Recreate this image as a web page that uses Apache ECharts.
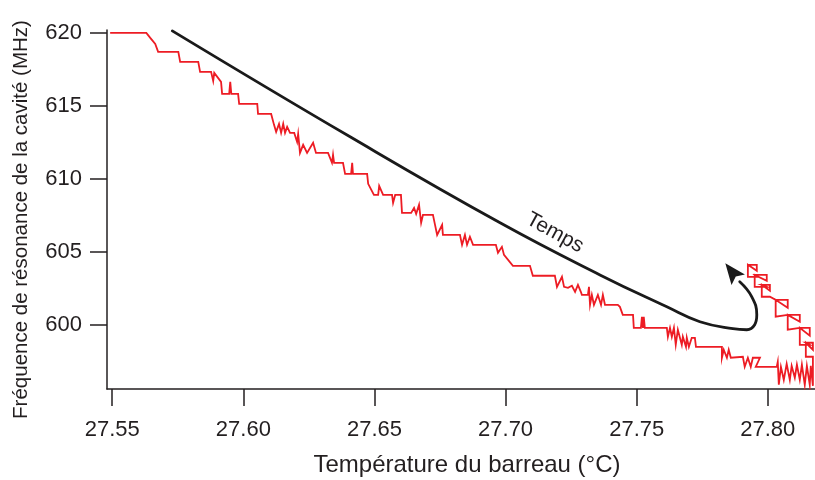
<!DOCTYPE html>
<html>
<head>
<meta charset="utf-8">
<script src="https://cdn.jsdelivr.net/npm/echarts@6/dist/echarts.min.js"></script>
<style>
  html, body { margin: 0; padding: 0; background: #ffffff; }
  #chart { width: 815px; height: 480px; }
</style>
</head>
<body>
<div id="chart"></div>
<script>
// Bar temperature (°C) and cavity resonance frequency (MHz), in acquisition order
const temperature = [
  27.5492, 27.5630, 27.5645, 27.5664, 27.5675, 27.5752, 27.5759, 27.5828, 27.5835, 27.5877,
  27.5885, 27.5889, 27.5915, 27.5919, 27.5946, 27.5950, 27.5954, 27.5980, 27.5984, 27.6053,
  27.6056, 27.6106, 27.6117, 27.6125, 27.6136, 27.6144, 27.6152, 27.6159, 27.6167, 27.6178,
  27.6194, 27.6205, 27.6209, 27.6216, 27.6228, 27.6243, 27.6266, 27.6277, 27.6323, 27.6338,
  27.6342, 27.6346, 27.6380, 27.6388, 27.6411, 27.6415, 27.6418, 27.6472, 27.6476, 27.6498,
  27.6514, 27.6518, 27.6533, 27.6567, 27.6571, 27.6579, 27.6601, 27.6605, 27.6640, 27.6651,
  27.6659, 27.6670, 27.6678, 27.6685, 27.6723, 27.6731, 27.6739, 27.6758, 27.6761, 27.6826,
  27.6834, 27.6845, 27.6853, 27.6864, 27.6876, 27.6963, 27.6971, 27.6986, 27.6994, 27.7028,
  27.7093, 27.7104, 27.7188, 27.7196, 27.7215, 27.7223, 27.7238, 27.7253, 27.7265, 27.7276,
  27.7287, 27.7291, 27.7314, 27.7318, 27.7322, 27.7329, 27.7337, 27.7352, 27.7364, 27.7371,
  27.7379, 27.7428, 27.7436, 27.7447, 27.7486, 27.7489, 27.7516, 27.7520, 27.7524, 27.7527,
  27.7531, 27.7615, 27.7619, 27.7627, 27.7634, 27.7642, 27.7649, 27.7657, 27.7672, 27.7676,
  27.7688, 27.7691, 27.7699, 27.7710, 27.7722, 27.7726, 27.7817, 27.7825, 27.7825, 27.7832,
  27.7844, 27.7851, 27.7859, 27.7905, 27.7912, 27.7912, 27.7924, 27.7935, 27.7943, 27.7970,
  27.7954, 27.7977, 27.8034, 27.8038, 27.8042, 27.8050, 27.8061, 27.8072, 27.8084, 27.8091,
  27.8103, 27.8111, 27.8122, 27.8130, 27.8141, 27.8149, 27.8160, 27.8164, 27.8172,
  // heating reversed: the frequency climbs back
  27.8172, 27.8145, 27.8145, 27.8172, 27.8172, 27.8145,
  27.8160, 27.8122, 27.8122, 27.8160, 27.8160, 27.8122,
  27.8122, 27.8076, 27.8076, 27.8122, 27.8122, 27.8076,
  27.8076, 27.8030, 27.8030, 27.8076, 27.8076, 27.8030,
  27.8008, 27.7977, 27.7977, 27.8008, 27.8008, 27.7977,
  27.7996, 27.7950, 27.7950, 27.7996, 27.7996, 27.7950,
  27.7958, 27.7924, 27.7924, 27.7958, 27.7958, 27.7924
];
const frequency = [
  620.00, 620.00, 619.66, 619.25, 618.70, 618.70, 618.01, 618.01, 617.33, 617.33,
  616.71, 617.26, 616.64, 615.82, 615.82, 616.64, 615.82, 615.82, 615.14, 615.14,
  614.45, 614.45, 613.70, 613.22, 613.77, 613.15, 613.77, 613.15, 613.56, 613.15,
  613.15, 612.53, 613.08, 611.78, 612.33, 611.78, 612.47, 611.78, 611.78, 611.10,
  611.64, 611.10, 611.10, 610.34, 610.34, 611.10, 610.34, 610.34, 609.66, 608.90,
  608.90, 609.52, 608.90, 608.90, 608.36, 608.90, 608.90, 607.67, 607.67, 608.01,
  607.60, 608.22, 606.99, 607.53, 607.53, 606.85, 606.16, 606.85, 606.16, 606.16,
  605.48, 606.16, 605.48, 606.03, 605.48, 605.48, 604.93, 605.34, 604.79, 604.04,
  604.04, 603.36, 603.36, 602.60, 603.29, 602.60, 602.53, 602.67, 602.26, 602.74,
  602.26, 602.05, 602.05, 602.60, 601.37, 602.05, 601.37, 602.05, 601.37, 602.05,
  601.37, 601.37, 601.23, 600.68, 600.68, 599.79, 599.79, 600.55, 599.79, 600.55,
  599.79, 599.79, 599.18, 599.79, 599.18, 599.79, 598.63, 599.66, 598.63, 599.18,
  598.49, 599.11, 598.49, 599.11, 599.11, 598.49, 598.49, 598.49, 597.74, 598.29,
  597.74, 598.29, 597.74, 597.81, 597.81, 597.12, 597.74, 597.12, 597.74, 597.74,
  597.12, 597.12, 597.12, 597.47, 595.89, 597.12, 596.23, 597.33, 596.23, 597.19,
  596.37, 597.26, 596.23, 597.26, 595.89, 597.19, 595.89, 597.19, 595.82,
  // heating reversed: the frequency climbs back
  597.81, 597.81, 598.77, 598.29, 598.77, 598.77,
  598.63, 598.63, 599.79, 599.25, 599.79, 599.79,
  599.66, 599.66, 600.68, 600.21, 600.68, 600.68,
  600.55, 600.55, 601.71, 601.16, 601.71, 601.71,
  601.92, 601.92, 602.74, 602.33, 602.74, 602.74,
  602.60, 602.60, 603.42, 603.01, 603.42, 603.42,
  603.29, 603.29, 604.11, 603.70, 604.11, 604.11
];

// Guide curve showing the direction of time ("Temps"), ending in an arrow tip
const timeCurveTemp = [27.5729, 27.6407, 27.6979, 27.7360, 27.7615, 27.7741, 27.7867, 27.7920, 27.7950, 27.7958, 27.7939, 27.7893];
const timeCurveFreq = [620.14, 612.88, 606.99, 603.42, 601.23, 600.21, 599.73, 599.66, 600.00, 600.68, 601.92, 602.95];
const timeArrowTip = [27.7838, 604.22];
const timeLabelAt = [27.7188, 606.30];
const timeLabel = 'Temps';

// Axis ticks
const xTicks = [27.55, 27.60, 27.65, 27.70, 27.75, 27.80];
const yTicks = [600, 605, 610, 615, 620];
const xTitle = 'Température du barreau (°C)';
const yTitle = 'Fréquence de résonance de la cavité (MHz)';

const INK = '#231f20';
const FONT = '"Liberation Sans", Arial, Helvetica, sans-serif';

const measured = temperature.map((t, i) => [t, frequency[i]]);
const guide = timeCurveTemp.map((t, i) => [t, timeCurveFreq[i]]);

const chart = echarts.init(document.getElementById('chart'), null, { renderer: 'canvas' });

const axisCommon = {
  axisLine: { show: true, onZero: false, lineStyle: { color: INK, width: 1.5 } },
  axisTick: { show: true, inside: false, length: 17, lineStyle: { color: INK, width: 1.5 } },
  splitLine: { show: false },
  axisLabel: { color: INK, fontFamily: FONT, fontSize: 22 },
  nameLocation: 'middle'
};

chart.setOption({
  animation: false,
  backgroundColor: '#ffffff',
  grid: { left: 107, right: 0, top: 30, bottom: 91, containLabel: false, outerBoundsMode: 'none' },
  xAxis: Object.assign({}, axisCommon, {
    type: 'value',
    min: 27.548,
    max: 27.818,
    name: xTitle,
    nameGap: 64,
    nameTextStyle: { color: INK, fontFamily: FONT, fontSize: 24, padding: [0, 0, 0, 12] },
    axisTick: Object.assign({}, axisCommon.axisTick, { customValues: xTicks }),
    axisLabel: Object.assign({}, axisCommon.axisLabel, {
      customValues: xTicks,
      margin: 30,
      formatter: v => v.toFixed(2)
    })
  }),
  yAxis: Object.assign({}, axisCommon, {
    type: 'value',
    min: 595.6,
    max: 620.2,
    name: yTitle,
    nameGap: 75,
    nameTextStyle: { color: INK, fontFamily: FONT, fontSize: 20.5, padding: [0, 20, 0, 0] },
    axisTick: Object.assign({}, axisCommon.axisTick, { customValues: yTicks }),
    axisLabel: Object.assign({}, axisCommon.axisLabel, {
      customValues: yTicks,
      margin: 25,
      formatter: v => String(Math.round(v))
    })
  }),
  series: [
    {
      name: 'Fréquence',
      type: 'line',
      data: measured,
      showSymbol: false,
      symbol: 'none',
      clip: true,
      lineStyle: { color: '#ed1c24', width: 1.8, join: 'miter' },
      z: 3
    },
    {
      name: timeLabel,
      type: 'line',
      data: guide,
      showSymbol: false,
      symbol: 'none',
      smooth: 0.45,
      clip: false,
      lineStyle: { color: '#1a1a1a', width: 2.8, cap: 'round' },
      z: 4
    }
  ]
});

// Arrow head and rotated label, placed through the chart's own coordinate system
function drawDecorations() {
  const tip = chart.convertToPixel({ gridIndex: 0 }, timeArrowTip);
  const tail = chart.convertToPixel({ gridIndex: 0 }, guide[guide.length - 1]);
  const dx = tail[0] - tip[0];
  const dy = tail[1] - tip[1];
  const len = Math.hypot(dx, dy) || 1;
  const ux = dx / len, uy = dy / len;
  const headLen = 21, halfW = 8.5;
  const bx = tip[0] + ux * headLen, by = tip[1] + uy * headLen;
  const nx = bx - ux * 4, ny = by - uy * 4;
  const p1 = [bx - uy * halfW, by + ux * halfW];
  const p2 = [bx + uy * halfW, by - ux * halfW];

  const lab = chart.convertToPixel({ gridIndex: 0 }, timeLabelAt);
  chart.setOption({
    graphic: [
      {
        type: 'polygon',
        z: 10,
        shape: { points: [tip, p1, [nx, ny], p2] },
        style: { fill: '#1a1a1a' }
      },
      {
        type: 'text',
        z: 10,
        x: lab[0],
        y: lab[1],
        rotation: -0.5,
        style: {
          text: timeLabel,
          fill: INK,
          font: '21px ' + FONT,
          align: 'center',
          verticalAlign: 'middle'
        }
      }
    ]
  });
}
drawDecorations();
</script>
</body>
</html>
